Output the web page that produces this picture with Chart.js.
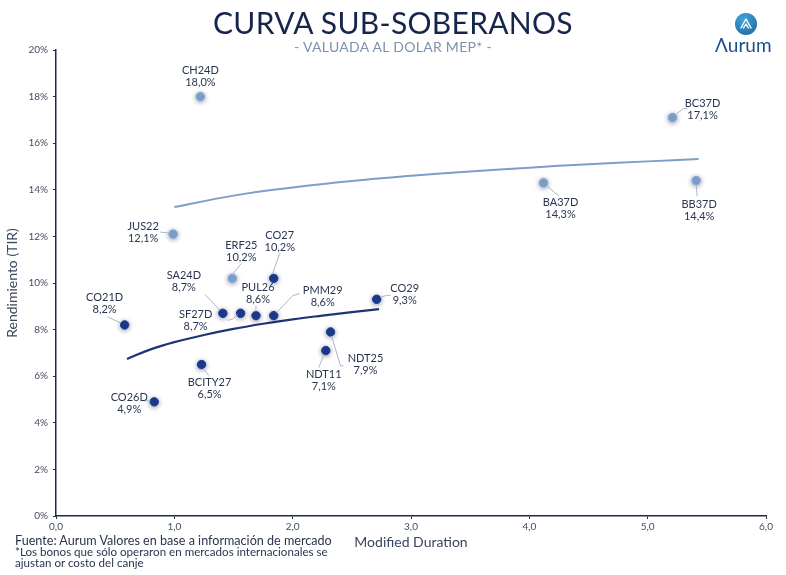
<!DOCTYPE html>
<html><head><meta charset="utf-8">
<script src="https://cdn.jsdelivr.net/npm/chart.js@4/dist/chart.umd.min.js"></script>
<style>
html,body{margin:0;padding:0;background:#fff;}
#wrap{position:relative;width:786px;height:575px;font-family:Lato,"Open Sans",sans-serif;}
canvas{position:absolute;left:0;top:0;}
.t{position:absolute;white-space:nowrap;}
#title{left:0;width:786px;text-align:center;top:4px;font-size:30px;color:#16254a;letter-spacing:0.3px;}
#sub{left:0;width:786px;text-align:center;top:38px;font-size:14px;color:#7d91ab;letter-spacing:0.3px;}
#f1{left:15px;top:533px;font-size:12.6px;color:#2a3552;}
#f2{left:15px;top:546px;font-size:11.6px;color:#2a3552;line-height:11px;}
#logo{left:735px;top:13px;width:22px;height:22px;border-radius:50%;background:radial-gradient(circle at 40% 30%,#3fa6d6,#1f5f9c);}
#logotxt{left:715px;top:33px;font-size:19px;color:#1d4f86;}
</style></head>
<body><div id="wrap">
<canvas id="c" width="786" height="575"></canvas>
<div class="t" id="title">CURVA SUB-SOBERANOS</div>
<div class="t" id="sub">- VALUADA AL DOLAR MEP* -</div>
<div class="t" id="logo"><svg width="22" height="22" viewBox="0 0 22 22"><path d="M6 15 L11 6 L16 15 M8.5 15 L11 11 L13.5 15" fill="none" stroke="#fff" stroke-width="1.4" stroke-linejoin="round" stroke-linecap="round"/></svg></div>
<div class="t" id="logotxt">&#923;urum</div>
<div class="t" id="f1">Fuente: Aurum Valores en base a información de mercado</div>
<div class="t" id="f2">*Los bonos que sólo operaron en mercados internacionales se<br>ajustan or costo del canje</div>
</div>
<script>
// ---- data ----
const intlNames = ["CH24D","BC37D","BA37D","BB37D","JUS22","ERF25"];
const intlDuration = [1.22, 5.21, 4.12, 5.41, 0.99, 1.49];
const intlYield = [18.0, 17.1, 14.3, 14.4, 12.1, 10.2];

const locNames = ["CO27","SA24D","SF27D","PUL26","PMM29","CO21D","CO29","NDT25","NDT11","BCITY27","CO26D"];
const locDuration = [1.84, 1.41, 1.56, 1.69, 1.84, 0.58, 2.71, 2.32, 2.28, 1.23, 0.83];
const locYield = [10.2, 8.7, 8.7, 8.6, 8.6, 8.2, 9.3, 7.9, 7.1, 6.5, 4.9];

// trend curves
const intlCurveX = [1.0, 1.5, 2.0, 2.5, 3.0, 3.5, 4.0, 4.5, 5.0, 5.43];
const intlCurveY = [13.26, 13.75, 14.1, 14.38, 14.6, 14.79, 14.95, 15.1, 15.22, 15.32];
const locCurveX = [0.6, 0.8, 1.0, 1.25, 1.5, 1.75, 2.0, 2.25, 2.5, 2.73];
const locCurveY = [6.74, 7.15, 7.46, 7.77, 8.03, 8.25, 8.44, 8.6, 8.75, 8.88];

const xTicks = [0,1,2,3,4,5,6];
const yTicks = [0,2,4,6,8,10,12,14,16,18,20];

// label placement (offsets from the point, px): [labelDx, labelDy, leader polyline]
const labelLayout = {
  CH24D:[0,-20,null],
  BC37D:[30,-8,[3,-3,11,-9,15,-9]],
  BA37D:[17,26,[3,3,15,13]],
  BB37D:[3,30,[0,4,1,16]],
  JUS22:[-30,-2,[-4,-1,-13,-2]],
  ERF25:[9,-27,[1,-5,9,-15]],
  CO27:[6,-37,[-1,-5,6,-25]],
  SA24D:[-39,-32,[-3,-3,-18,-19]],
  SF27D:[-45,7,[-3,1,-8,6,-13,7]],
  PUL26:[2,-22,[0,-4,0,-10]],
  PMM29:[49,-19,[3,-3,19,-20,26,-22]],
  CO21D:[-20,-21,[-4,-2,-17,-8]],
  CO29:[28,-5,[4,-2,10,-4,14,-4]],
  NDT25:[35,33,[1,4,10,34,13,34]],
  NDT11:[-2,30,[-2,4,-7,17]],
  BCITY27:[8,24,[2,4,7,11]],
  CO26D:[-25,2,[-4,-1,-9,-1]]
};

const fmtPct = v => v.toFixed(1).replace('.', ',') + '%';

const labelPlugin = {
  id: 'ptLabels',
  afterDatasetsDraw(chart) {
    const ctx = chart.ctx;
    ctx.save();
    chart.data.datasets.forEach((ds, di) => {
      if (!ds.names) return;
      const meta = chart.getDatasetMeta(di);
      meta.data.forEach((el, i) => {
        const name = ds.names[i];
        const lay = labelLayout[name];
        const px = el.x, py = el.y;
        if (lay[2]) {
          const seg = lay[2];
          ctx.beginPath();
          ctx.strokeStyle = '#a9b6cc';
          ctx.lineWidth = 1;
          ctx.moveTo(px + seg[0], py + seg[1]);
          for (let k = 2; k < seg.length; k += 2) ctx.lineTo(px + seg[k], py + seg[k + 1]);
          ctx.stroke();
        }
        ctx.fillStyle = '#2a3552';
        ctx.font = '11px Lato, "Open Sans", sans-serif';
        ctx.textAlign = 'center';
        ctx.textBaseline = 'middle';
        const lx = px + lay[0], ly = py + lay[1];
        ctx.fillText(name, lx, ly - 6);
        ctx.fillText(fmtPct(ds.data[i].y), lx, ly + 6);
      });
    });
    ctx.restore();
  },
  beforeDatasetDraw(chart, args) {
    const ds = chart.data.datasets[args.index];
    chart.ctx.save();
    if (ds.names) {
      chart.ctx.shadowColor = 'rgba(20,30,70,0.45)';
      chart.ctx.shadowBlur = 5;
      chart.ctx.shadowOffsetY = 1;
    }
  },
  afterDatasetDraw(chart) { chart.ctx.restore(); }
};

const toPts = (xs, ys) => xs.map((x, i) => ({x, y: ys[i]}));

new Chart(document.getElementById('c'), {
  type: 'scatter',
  data: {
    datasets: [
      { names: intlNames, data: toPts(intlDuration, intlYield), backgroundColor: '#82a6d2', borderColor: '#82a6d2', pointRadius: 4.2, order: 0 },
      { names: locNames, data: toPts(locDuration, locYield), backgroundColor: '#1c3a8e', borderColor: '#1c3a8e', pointRadius: 4.2, order: 0 },
      { data: toPts(intlCurveX, intlCurveY), showLine: true, borderColor: '#7b9fc8', borderWidth: 2, pointRadius: 0, tension: 0.4, order: 1 },
      { data: toPts(locCurveX, locCurveY), showLine: true, borderColor: '#1b3576', borderWidth: 2.2, pointRadius: 0, tension: 0.4, order: 1 }
    ]
  },
  options: {
    responsive: false,
    animation: false,
    layout: { padding: { top: 50, right: 20, left: 0, bottom: 24 } },
    plugins: { legend: { display: false }, tooltip: { enabled: false } },
    scales: {
      x: {
        type: 'linear', min: 0, max: 6,
        afterBuildTicks: s => { s.ticks = xTicks.map(v => ({value: v})); },
        afterFit: s => { s.height = 35; },
        border: { color: '#1c2a4c', width: 1.5 },
        grid: { drawOnChartArea: false, drawTicks: true, tickLength: 3, color: '#1c2a4c' },
        ticks: { color: '#444c5e', font: { size: 10, family: 'Lato' }, padding: 2, callback: v => v.toFixed(1).replace('.', ',') },
        title: { display: true, text: 'Modified Duration', color: '#3a4560', font: { size: 14, family: 'Lato' }, padding: { top: 1, bottom: 0 } }
      },
      y: {
        type: 'linear', min: 0, max: 20,
        afterBuildTicks: s => { s.ticks = yTicks.map(v => ({value: v})); },
        afterFit: s => { s.width = 56; },
        border: { color: '#1c2a4c', width: 1.5 },
        grid: { drawOnChartArea: false, drawTicks: true, tickLength: 3, color: '#1c2a4c' },
        ticks: { color: '#444c5e', font: { size: 10, family: 'Lato' }, padding: 5, callback: v => v + '%' },
        title: { display: true, text: 'Rendimiento (TIR)', color: '#3a4560', font: { size: 14, family: 'Lato' }, padding: { bottom: 0, top: 4 } }
      }
    }
  },
  plugins: [labelPlugin]
});
</script>
</body></html>
